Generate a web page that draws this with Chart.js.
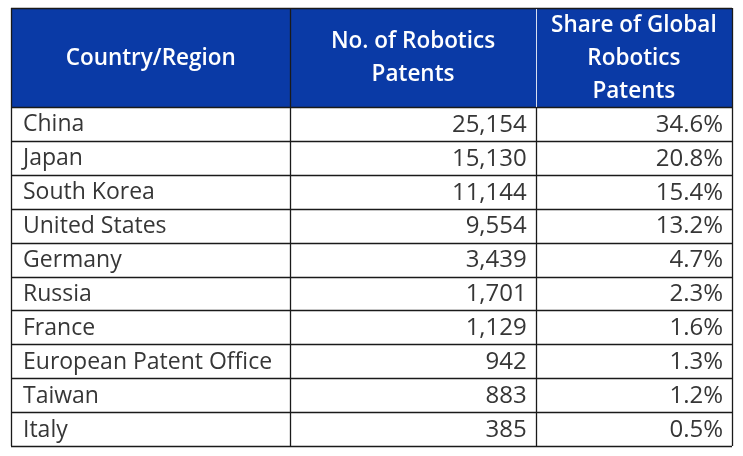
<!DOCTYPE html>
<html lang="en">
<head>
<meta charset="UTF-8">
<title>Robotics Patents</title>
<script src="https://cdn.jsdelivr.net/npm/chart.js"></script>
<style>
  html, body { margin: 0; padding: 0; background: #fff; }
  #wrap { width: 743px; height: 456px; }
</style>
</head>
<body>
<div id="wrap"><canvas id="tabela"></canvas></div>
<script>
// dados da tabela
const countries = ['China', 'Japan', 'South Korea', 'United States', 'Germany',
  'Russia', 'France', 'European Patent Office', 'Taiwan', 'Italy'];
const patents = [25154, 15130, 11144, 9554, 3439, 1701, 1129, 942, 883, 385];
const shares = [34.6, 20.8, 15.4, 13.2, 4.7, 2.3, 1.6, 1.3, 1.2, 0.5];
const headers = [['Country/Region'], ['No. of Robotics', 'Patents'], ['Share of Global', 'Robotics', 'Patents']];

// layout (largura das colunas em unidades do eixo x)
const colEdges = [0, 279, 524, 720];
const headerHeight = 99;
const fonte = '"Open Sans", sans-serif';
const azul = '#0a3aa6';
const linha = '#1a1a1a';

function textoCelula(col, i) {
  if (col == 0) return countries[i];
  if (col == 1) return patents[i].toLocaleString('en-US');
  return shares[i].toFixed(1) + '%';
}

const tabelaPlugin = {
  id: 'tabela',
  beforeDatasetsDraw(chart) {
    const ctx = chart.ctx;
    const x = chart.scales.x;
    const area = chart.chartArea;
    const top = area.top - headerHeight;
    ctx.save();
    ctx.fillStyle = azul;
    ctx.fillRect(x.getPixelForValue(colEdges[0]), top,
      x.getPixelForValue(colEdges[3]) - x.getPixelForValue(colEdges[0]), headerHeight);
    ctx.fillStyle = '#fff';
    ctx.font = '600 22.5px ' + fonte;
    ctx.textAlign = 'center';
    ctx.textBaseline = 'middle';
    const lh = 33;
    headers.forEach(function (h, c) {
      const cx = (x.getPixelForValue(colEdges[c]) + x.getPixelForValue(colEdges[c + 1])) / 2;
      const cy = top + headerHeight / 2 + 1;
      h.forEach(function (t, k) {
        ctx.fillText(t, cx, cy + (k - (h.length - 1) / 2) * lh);
      });
    });
    ctx.restore();
  },
  afterDatasetsDraw(chart) {
    const ctx = chart.ctx;
    const x = chart.scales.x;
    const area = chart.chartArea;
    const top = area.top - headerHeight;
    ctx.save();
    ctx.fillStyle = '#363636';
    ctx.textBaseline = 'middle';
    chart.data.datasets.forEach(function (ds, c) {
      const meta = chart.getDatasetMeta(c);
      meta.data.forEach(function (bar, i) {
        const x0 = Math.min(bar.x, bar.base);
        const x1 = Math.max(bar.x, bar.base);
        if (c == 0) {
          ctx.font = '23px ' + fonte;
          ctx.textAlign = 'left';
          ctx.fillText(textoCelula(c, i), x0 + 12, bar.y + 1);
        } else {
          ctx.font = '24px ' + fonte;
          ctx.textAlign = 'right';
          ctx.fillText(textoCelula(c, i), x1 - 9, bar.y + 1);
        }
      });
    });

    // linhas da grade
    ctx.strokeStyle = linha;
    ctx.lineWidth = 1.3;
    ctx.beginPath();
    const meta = chart.getDatasetMeta(0);
    const left = x.getPixelForValue(colEdges[0]);
    const right = x.getPixelForValue(colEdges[3]);
    meta.data.forEach(function (bar) {
      const yb = Math.round(bar.y + bar.height / 2) + 0.5;
      ctx.moveTo(left, yb);
      ctx.lineTo(right, yb);
    });
    ctx.moveTo(left, Math.round(area.top) + 0.5);
    ctx.lineTo(right, Math.round(area.top) + 0.5);
    ctx.moveTo(left, Math.round(top) + 0.5);
    ctx.lineTo(right, Math.round(top) + 0.5);
    colEdges.forEach(function (e, k) {
      const xp = Math.round(x.getPixelForValue(e)) + 0.5;
      const y0 = (k == 0 || k == 3 || k == 1) ? top : area.top;
      ctx.moveTo(xp, y0);
      ctx.lineTo(xp, area.bottom);
    });
    ctx.stroke();
    // divisor claro no cabecalho
    ctx.strokeStyle = '#d8def0';
    ctx.lineWidth = 1;
    ctx.beginPath();
    const xp2 = Math.round(x.getPixelForValue(colEdges[2])) + 0.5;
    ctx.moveTo(xp2, top + 1);
    ctx.lineTo(xp2, area.top);
    ctx.stroke();
    ctx.restore();
  }
};

function celulas(c) {
  return countries.map(function () { return [colEdges[c], colEdges[c + 1]]; });
}

const ctx = document.getElementById('tabela').getContext('2d');
const myChart = new Chart(ctx, {
  type: 'bar',
  data: {
    labels: countries,
    datasets: [0, 1, 2].map(function (c) {
      return {
        label: headers[c].join(' '),
        data: celulas(c),
        backgroundColor: '#ffffff',
        borderWidth: 0,
        grouped: false,
        barPercentage: 1,
        categoryPercentage: 1
      };
    })
  },
  options: {
    indexAxis: 'y',
    responsive: true,
    maintainAspectRatio: false,
    animation: false,
    layout: { padding: { left: 11, right: 11, top: 8 + headerHeight, bottom: 10 } },
    scales: {
      x: { type: 'linear', min: colEdges[0], max: colEdges[3], display: false },
      y: { type: 'category', display: false }
    },
    plugins: {
      legend: { display: false },
      tooltip: { enabled: false }
    }
  },
  plugins: [tabelaPlugin]
});
</script>
</body>
</html>
